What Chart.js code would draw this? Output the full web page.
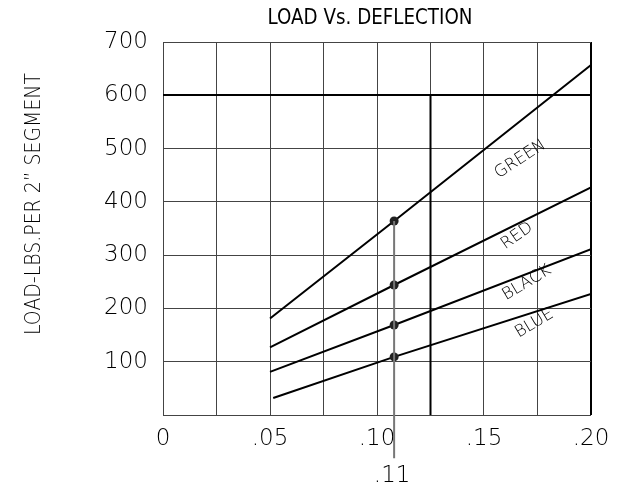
<!DOCTYPE html>
<html>
<head>
<meta charset="utf-8">
<script src="https://cdn.jsdelivr.net/npm/chart.js@4.4.0/dist/chart.umd.min.js"></script>
<style>
html,body{margin:0;padding:0;background:#fff;}
#wrap{width:631px;height:491px;position:relative;}
</style>
</head>
<body>
<div id="wrap"><canvas id="c" width="631" height="491"></canvas></div>
<script>
// ---- data ----
const title = 'LOAD Vs. DEFLECTION';
const yTitle = 'LOAD-LBS.PER 2\u201D SEGMENT';
const deflX = [0.05, 0.108, 0.20];
const deflXBlue = [0.0515, 0.108, 0.20];
const green = [181, 364, 657];
const red = [127, 244, 427];
const black = [81, 169, 311];
const blue = [32, 109, 227];
const markX = 0.108;
const markLabel = '.11';
const refX = 0.125;
const refY = 600;
const seriesNames = ['GREEN', 'RED', 'BLACK', 'BLUE'];
const labelPos = [[0.1669, 480, 33], [0.1654, 336, 35], [0.1700, 248, 31], [0.1735, 172, 31]];

function pts(xs, ys) { return xs.map((x, i) => ({x: x, y: ys[i]})); }
const lineStyle = {borderColor: '#000', borderWidth: 2, pointRadius: [0, 4.5, 0], pointBackgroundColor: '#222',
  pointBorderColor: '#222', pointBorderWidth: 0, tension: 0, fill: false, showLine: true};

const tickFont = {family: "'DejaVu Sans', sans-serif", size: 23, weight: '200'};

function condensedText(ctx, text, x, y, width) {
  const w = ctx.measureText(text).width;
  ctx.save();
  ctx.translate(x, y);
  ctx.scale(width / w, 1);
  ctx.fillText(text, 0, 0);
  ctx.restore();
}

const textPlugin = {
  id: 'texts',
  afterDatasetsDraw(chart) {
    const ctx = chart.ctx, xs = chart.scales.x, ys = chart.scales.y;
    ctx.save();
    ctx.fillStyle = '#000';
    ctx.textAlign = 'center';
    ctx.textBaseline = 'middle';
    ctx.font = "400 21px 'DejaVu Sans', sans-serif";
    condensedText(ctx, title, 370, 19, 205);
    ctx.font = "300 21px 'DejaVu Sans', sans-serif";
    ctx.save();
    ctx.translate(35, 204);
    ctx.rotate(-Math.PI / 2);
    condensedText(ctx, yTitle, 0, 0, 262);
    ctx.restore();
    ctx.font = "200 16.5px 'DejaVu Sans', sans-serif";
    seriesNames.forEach((n, i) => {
      const p = labelPos[i];
      ctx.save();
      ctx.translate(xs.getPixelForValue(p[0]), ys.getPixelForValue(p[1]));
      ctx.rotate(-p[2] * Math.PI / 180);
      ctx.fillText(n, 0, 0);
      ctx.restore();
    });
    ctx.font = "200 23px 'DejaVu Sans', sans-serif";
    ctx.fillText(markLabel, xs.getPixelForValue(markX) - 2, 476);
    ctx.restore();
  }
};

new Chart(document.getElementById('c'), {
  type: 'scatter',
  data: {
    datasets: [
      {label: 'mark', data: [{x: markX, y: green[1]}, {x: markX, y: -81}], borderColor: '#777', borderWidth: 2,
        pointRadius: 0, showLine: true, clip: false},
      {label: 'ref', data: [{x: refX, y: refY}, {x: refX, y: 0}], borderColor: '#000', borderWidth: 2,
        pointRadius: 0, showLine: true},
      Object.assign({label: 'GREEN', data: pts(deflX, green)}, lineStyle),
      Object.assign({label: 'RED', data: pts(deflX, red)}, lineStyle),
      Object.assign({label: 'BLACK', data: pts(deflX, black)}, lineStyle),
      Object.assign({label: 'BLUE', data: pts(deflXBlue, blue)}, lineStyle)
    ]
  },
  options: {
    responsive: false,
    animation: false,
    devicePixelRatio: 1,
    layout: {padding: {left: 0, top: 42, right: 40, bottom: 0}},
    plugins: {legend: {display: false}, tooltip: {enabled: false}, title: {display: false}},
    scales: {
      x: {
        type: 'linear', min: 0, max: 0.2,
        afterFit(s) { s.height = 76; },
        border: {display: false},
        grid: {
          drawTicks: false,
          color: c => (c.tick && Math.abs(c.tick.value - 0.2) < 1e-6) ? '#000' : '#444',
          lineWidth: c => (c.tick && Math.abs(c.tick.value - 0.2) < 1e-6) ? 2 : 1
        },
        ticks: {
          stepSize: 0.025, padding: 10, color: '#000', font: tickFont, maxRotation: 0, autoSkip: false,
          callback: v => {
            const m = Math.round(v * 1000);
            if (m % 50 !== 0) return '';
            if (m === 0) return '0';
            return '.' + (v.toFixed(2).split('.')[1]);
          }
        }
      },
      y: {
        type: 'linear', min: 0, max: 700,
        afterFit(s) { s.width = 163; },
        border: {display: false},
        grid: {
          drawTicks: false,
          color: c => (c.tick && c.tick.value === 600) ? '#000' : '#444',
          lineWidth: c => (c.tick && c.tick.value === 600) ? 2 : 1
        },
        ticks: {
          stepSize: 100, padding: 15, color: '#000', font: tickFont,
          callback: v => v === 0 ? '' : String(v)
        }
      }
    }
  },
  plugins: [textPlugin]
});
</script>
</body>
</html>
